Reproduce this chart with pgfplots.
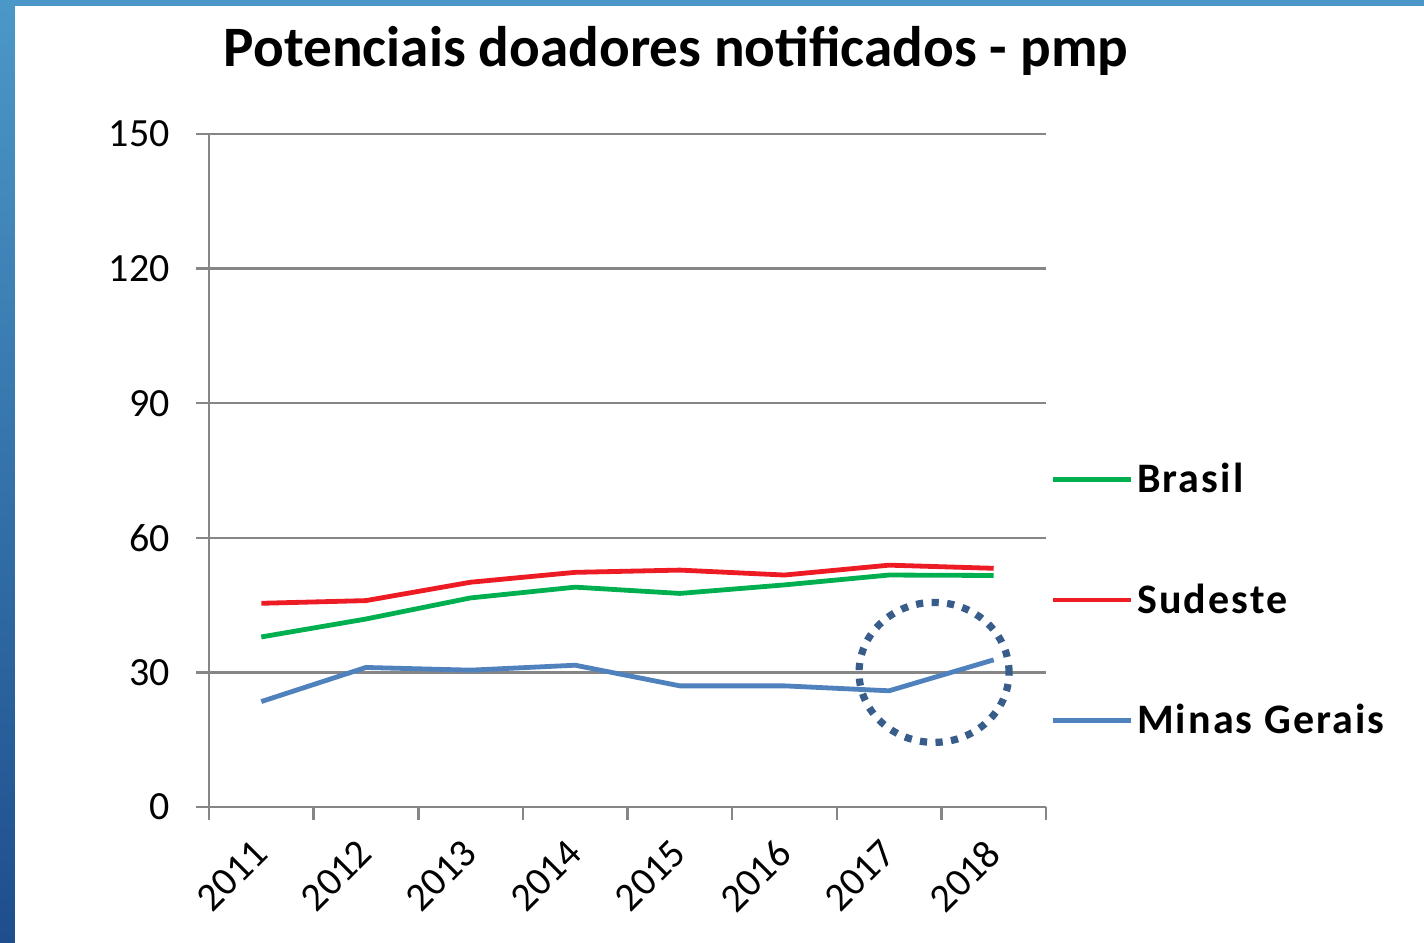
\documentclass[border=0pt]{standalone}
\usepackage{fontspec}
\setmainfont{Carlito}
\usepackage{pgfplots}
\pgfplotsset{compat=1.18}
\definecolor{cgreen}{RGB}{0,176,80}
\definecolor{cred}{RGB}{237,28,36}
\definecolor{cblue}{RGB}{79,129,189}
\definecolor{cgrid}{RGB}{134,134,134}
\definecolor{cnavy}{RGB}{56,93,138}
\definecolor{bgtop}{RGB}{75,152,200}
\definecolor{bgbot}{RGB}{30,78,140}
\begin{document}
\begin{tikzpicture}
\shade[top color=bgtop, bottom color=bgbot] (0,0) rectangle (712bp,471.5bp);
\fill[white] (7.5bp,0) rectangle (712bp,468.5bp);
\node[anchor=base, font=\fontsize{28.6bp}{33bp}\selectfont\bfseries] at (338bp,438bp) {Potenciais doadores notificados - pmp};
\begin{axis}[
  at={(104.5bp,68bp)}, anchor=south west,
  scale only axis, width=418.5bp, height=336.5bp,
  xmin=-0.5, xmax=7.5, ymin=0, ymax=150,
  axis x line*=bottom, axis y line*=left,
  axis line style={draw=cgrid, line width=1.25bp},
  every tick/.style={draw=cgrid, line width=1.25bp},
  tick align=outside, major tick length=6.5bp,
  ytick={0,30,60,90,120,150},
  ymajorgrids, grid style={draw=cgrid, line width=1.25bp},
  xtick={-0.5,0.5,1.5,2.5,3.5,4.5,5.5,6.5,7.5},
  xticklabels={},
  extra x ticks={0,1,2,3,4,5,6,7},
  extra x tick labels={2011,2012,2013,2014,2015,2016,2017,2018},
  extra x tick style={major tick length=0pt, grid=none},
  /pgf/number format/assume math mode=true,
  tick label style={font=\fontsize{20bp}{24bp}\selectfont},
  yticklabel style={inner sep=0pt, xshift=-13bp},
  xticklabel style={xshift=-5bp, yshift=-15bp, rotate=45, anchor=north east, inner sep=0pt},
  legend style={at={(1.0048,0.3076)}, anchor=west, draw=none, fill=none, inner sep=0pt,
    row sep=40bp, font=\fontsize{21bp}{25bp}\selectfont\bfseries\addfontfeatures{LetterSpace=5},
    /tikz/every even column/.append style={column sep=4bp}},
  legend cell align=left,
  legend image code/.code={\draw[#1] (0bp,0bp) -- (39bp,0bp);},
  clip=false,
]
\addplot[cgreen, line width=2.4bp] coordinates {(0,37.9) (1,41.9) (2,46.6) (3,49.0) (4,47.6) (5,49.5) (6,51.7) (7,51.6)};
\addlegendentry{Brasil}
\addplot[cred, line width=2.4bp] coordinates {(0,45.4) (1,46.0) (2,50.1) (3,52.3) (4,52.8) (5,51.7) (6,53.9) (7,53.2)};
\addlegendentry{Sudeste}
\addplot[cblue, line width=2.4bp] coordinates {(0,23.5) (1,31.1) (2,30.5) (3,31.6) (4,27.0) (5,27.0) (6,25.9) (7,32.8)};
\addlegendentry{Minas Gerais}
\draw[cnavy, line width=3.6bp, dash pattern=on 3.6bp off 4.2bp] (axis cs:6.43,30) ellipse [x radius=37.5bp, y radius=35bp];
\end{axis}
\end{tikzpicture}
\end{document}
